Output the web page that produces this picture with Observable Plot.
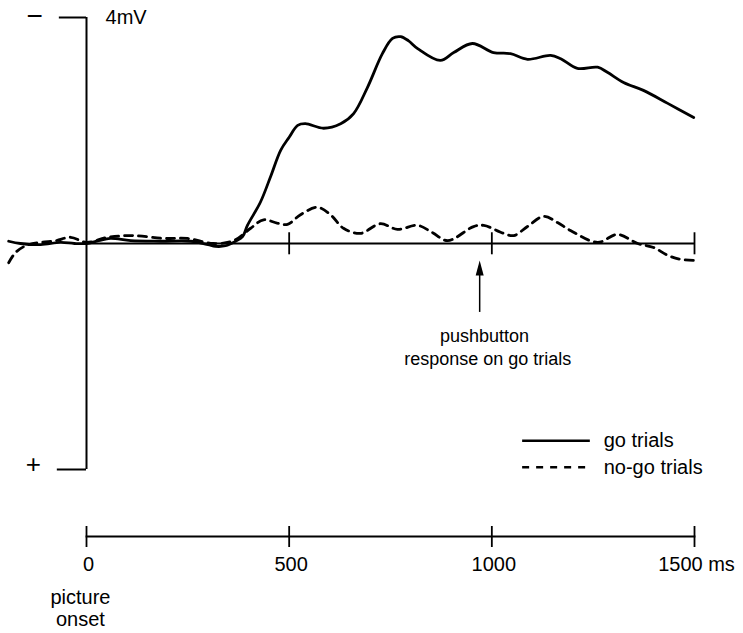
<!DOCTYPE html>
<html>
<head>
<meta charset="utf-8">
<script src="https://cdn.jsdelivr.net/npm/d3@7"></script>
<script src="https://cdn.jsdelivr.net/npm/@observablehq/plot@0.6"></script>
<style>
  html, body { margin: 0; padding: 0; background: #fff; }
  #chart svg { display: block; }
</style>
</head>
<body>
<div id="chart"></div>
<script>
// ---- data ----
// time in ms relative to picture onset, amplitude in mV (negative plotted upward)
const goTime = [-192,-163,-113,-64,-30,0,30,59,109,183,257,300,318,343,368,385,397,429,455,479,500,521,540,585,627,659,693,730,755,775,794,817,873,906,952,1004,1046,1088,1145,1170,1211,1261,1285,1325,1374,1434,1498];
const goAmp  = [-0.04,0,0.02,-0.02,0,0,-0.05,-0.09,-0.05,-0.04,-0.04,0.02,0.05,0.04,-0.04,-0.12,-0.32,-0.73,-1.2,-1.65,-1.88,-2.09,-2.12,-2.04,-2.12,-2.30,-2.76,-3.36,-3.63,-3.66,-3.59,-3.45,-3.24,-3.38,-3.54,-3.38,-3.36,-3.26,-3.33,-3.27,-3.10,-3.12,-3.03,-2.85,-2.71,-2.48,-2.23];

const nogoTime = [-192,-175,-150,-113,-76,-39,0,52,116,190,249,313,363,405,437,470,496,528,570,602,634,676,725,767,817,854,891,955,980,1029,1054,1088,1128,1162,1194,1261,1310,1360,1399,1434,1466,1503];
const nogoAmp  = [0.34,0.16,0.04,-0.02,-0.05,-0.11,-0.02,-0.11,-0.14,-0.09,-0.09,0,-0.05,-0.27,-0.42,-0.36,-0.34,-0.51,-0.64,-0.51,-0.27,-0.18,-0.35,-0.25,-0.32,-0.19,-0.05,-0.30,-0.32,-0.18,-0.14,-0.30,-0.48,-0.37,-0.23,-0.02,-0.16,0,0.07,0.21,0.28,0.30];

const timeTicks = [0, 500, 1000, 1500];
const zeroLineTicks = [500, 1000, 1500];
const seriesLabels = ["go trials", "no-go trials"];
const responseTime = 970;
const responseLines = ["pushbutton", "response on go trials"];
const onsetLabel = "picture\nonset";
const scaleLabel = "4mV";

// ---- build tables ----
const go = goTime.map((t, i) => ({t, v: goAmp[i]}));
const nogo = nogoTime.map((t, i) => ({t, v: nogoAmp[i]}));

const legendY = [3.49, 3.96];
const responseY = [1.65, 2.04];
const responseX = [982, 990];
const dashCurve = "8,6";

const chart = Plot.plot({
  width: 743,
  height: 633,
  marginLeft: 86,
  marginRight: 49,
  marginTop: 17,
  marginBottom: 97,
  x: {domain: [0, 1500]},
  y: {domain: [-4, 4], range: [17, 469], axis: null},
  style: {fontFamily: "'Liberation Sans', Arial, sans-serif", fontSize: "20px", color: "#000", background: "#fff", overflow: "visible"},
  marks: [
    // bottom time axis
    Plot.frame({anchor: "bottom", stroke: "#000", strokeWidth: 1.8}),
    Plot.ruleX(timeTicks, {insetTop: 509, insetBottom: -11, stroke: "#000", strokeWidth: 1.8}),
    Plot.axisX({ticks: timeTicks, tickSize: 0, tickPadding: 20, label: null, fontSize: 20, dx: 2,
      tickFormat: d => d === 1500 ? "1500 ms" : String(d)}),
    Plot.text([onsetLabel], {x: -15, y: 6.45, text: d => d, fontSize: 20, lineHeight: 1.1}),

    // voltage axis with brackets
    Plot.ruleX([0], {y1: -4, y2: 4, stroke: "#000", strokeWidth: 2}),
    Plot.ruleY([-4], {x1: -67, x2: 0, stroke: "#000", strokeWidth: 2}),
    Plot.ruleY([4], {x1: -72, x2: 0, stroke: "#000", strokeWidth: 2}),
    Plot.text(["\u2212"], {x: -128, y: -4, text: d => d, fontSize: 28, dy: -1}),
    Plot.text(["+"], {x: -131, y: 3.91, text: d => d, fontSize: 26}),
    Plot.text([scaleLabel], {x: 47, y: -4, text: d => d, textAnchor: "start", fontSize: 20}),

    // zero line with ticks
    Plot.ruleY([0], {x1: 0, x2: 1500, stroke: "#000", strokeWidth: 1.8}),
    Plot.ruleX(zeroLineTicks, {y1: -0.19, y2: 0.2, stroke: "#000", strokeWidth: 1.8}),

    // waveforms
    Plot.line(nogo, {x: "t", y: "v", curve: "catmull-rom", stroke: "#000", strokeWidth: 2.8, strokeDasharray: dashCurve}),
    Plot.line(go, {x: "t", y: "v", curve: "catmull-rom", stroke: "#000", strokeWidth: 2.8}),

    // response arrow
    Plot.ruleX([responseTime], {y1: 0.45, y2: 1.22, stroke: "#000", strokeWidth: 1.5}),
    Plot.vector([responseTime], {x: d => d, y: 0.30, length: 15, r: 4, shape: "spike", anchor: "end", rotate: 0, fill: "#000", stroke: "none"}),
    Plot.text(responseLines, {x: (d, i) => responseX[i], y: (d, i) => responseY[i], text: d => d, fontSize: 18}),

    // legend
    Plot.ruleY([seriesLabels[0]], {y: legendY[0], x1: 1076, x2: 1243, stroke: "#000", strokeWidth: 2.4}),
    Plot.ruleY([seriesLabels[1]], {y: legendY[1], x1: 1076, x2: 1243, stroke: "#000", strokeWidth: 2.4, strokeDasharray: "7,7"}),
    Plot.text(seriesLabels, {x: 1276, y: (d, i) => legendY[i], text: d => d, textAnchor: "start", fontSize: 20})
  ]
});

document.getElementById("chart").append(chart);
</script>
</body>
</html>
